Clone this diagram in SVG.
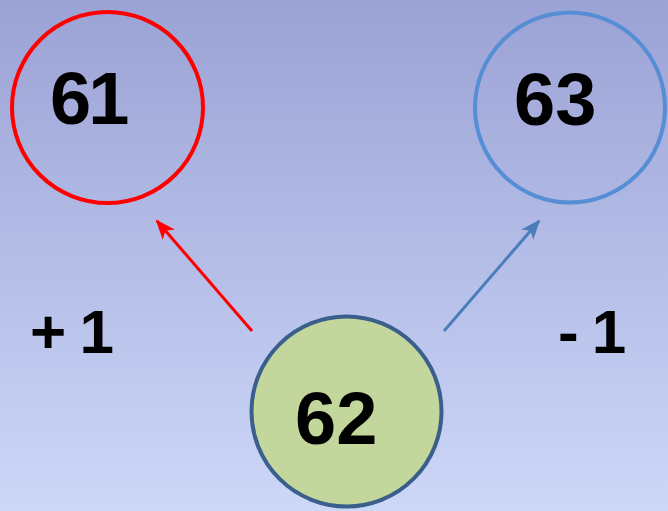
<svg xmlns="http://www.w3.org/2000/svg" width="668" height="511" viewBox="0 0 668 511">
  <defs>
    <linearGradient id="bg" x1="0" y1="0" x2="0" y2="1">
      <stop offset="0" stop-color="#9ba2d5"/>
      <stop offset="1" stop-color="#cdd7f8"/>
    </linearGradient>
    <marker id="ahRed" markerUnits="userSpaceOnUse" markerWidth="20" markerHeight="16" viewBox="0 0 20 16" refX="18" refY="8" orient="auto">
      <path d="M0,0 L20,8 L0,16 L5,8 Z" fill="#ff0000"/>
    </marker>
    <marker id="ahBlue" markerUnits="userSpaceOnUse" markerWidth="20" markerHeight="16" viewBox="0 0 20 16" refX="18" refY="8" orient="auto">
      <path d="M0,0 L20,8 L0,16 L5,8 Z" fill="#4a7ebb"/>
    </marker>
  </defs>
  <style>
    .num { font-family: "Liberation Sans", Arial, sans-serif; font-weight: bold; fill: #000; }
    .big { font-size: 74px; }
    .lbl { font-size: 62px; letter-spacing: -2px; }
  </style>
  <rect x="0" y="0" width="668" height="511" fill="url(#bg)"/>
  <g id="connectors">
    <line x1="252" y1="331" x2="157" y2="221" stroke="#ff0000" stroke-width="3" marker-end="url(#ahRed)"/>
    <line x1="444" y1="331" x2="539" y2="221" stroke="#4a7ebb" stroke-width="3" marker-end="url(#ahBlue)"/>
  </g>
  <g id="n61">
    <circle cx="107.5" cy="107.5" r="95.5" fill="none" stroke="#ff0000" stroke-width="4"/>
    <text class="num big" x="50" y="124" letter-spacing="-3">61</text>
  </g>
  <g id="n63">
    <circle cx="570" cy="107.5" r="95" fill="none" stroke="#558ed5" stroke-width="4"/>
    <text class="num big" x="514" y="125">63</text>
  </g>
  <g id="n62">
    <circle cx="346.5" cy="411.5" r="95" fill="#c3d69b" stroke="#3b5f8c" stroke-width="4"/>
    <text class="num big" x="295" y="444">62</text>
  </g>
  <text class="num lbl" x="30" y="353">+ 1</text>
  <text class="num lbl" x="558" y="353">- 1</text>
</svg>
